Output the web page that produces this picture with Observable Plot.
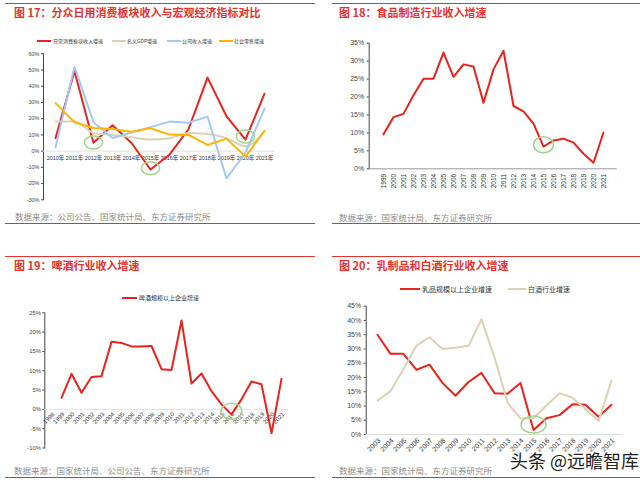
<!DOCTYPE html>
<html><head><meta charset="utf-8">
<script src="https://cdn.jsdelivr.net/npm/d3@7"></script>
<script src="https://cdn.jsdelivr.net/npm/@observablehq/plot@0.6"></script>
<style>
body{margin:0;width:640px;height:484px;position:relative;background:#fff;overflow:hidden;font-family:"Liberation Sans","Noto Sans CJK SC",sans-serif}
.rl{position:absolute;height:1px;background:#e5322d}
.title{position:absolute;font-family:"Noto Sans CJK SC",sans-serif;font-weight:bold;font-size:11px;color:#e5322d;white-space:nowrap;line-height:1}
.src{position:absolute;font-family:"Noto Sans CJK SC",sans-serif;font-size:8.5px;color:#8c8c8c;white-space:nowrap;line-height:1}
.leg{position:absolute;color:#333;white-space:nowrap;line-height:1;font-family:"Noto Sans CJK SC",sans-serif}
.sw{position:absolute;height:2px}
.pl{position:absolute}
.pl svg [aria-label="y-axis"] path, .pl svg [aria-label="y-axis"] line{stroke:#9a9a9a}
.wm{position:absolute;left:510px;top:451px;font-family:"Noto Sans CJK SC",sans-serif;font-size:18px;color:#222;white-space:nowrap;line-height:1;text-shadow:0 0 2px #fff,0 0 2px #fff}
</style></head><body>
<div id="root"></div>
<script>
// ---------- data ----------
const p1Years = ["2010","2011","2012","2013","2014","2015","2016","2017","2018","2019","2020","2021"];
const p1Consumer = [8, 49.3, 5.2, 16, 5, -11.3, -2.2, 13.5, 45.3, 21.5, 7.1, 35.4];
const p1GDP = [18.2, 18.3, 11.2, 10.0, 8.5, 7.1, 8.0, 11.2, 10.5, 8.0, 3.0, 12.5];
const p1Company = [2.4, 52, 17.8, 8.1, 11.5, 14.8, 18.2, 17.5, 21.3, -16.8, -1, 26.2];
const p1Retail = [29.6, 17.8, 14.3, 13.6, 12.0, 14.1, 10.2, 10.0, 3.8, 7.7, -3.4, 12.4];
const p1Names = ["日常消费板块收入增速","名义GDP增速","公司收入增速","社会零售增速"];
const p1MarkYears = ["2012","2015","2020"];
const p1MarkValues = [5.3, -10.6, 9];

const p2Years = ["1999","2000","2001","2002","2003","2004","2005","2006","2007","2008","2009","2010","2011","2012","2013","2014","2015","2016","2017","2018","2019","2020","2021"];
const p2Food = [9.6, 14.4, 15.3, 20.5, 25.1, 25.1, 32.4, 25.6, 29.1, 28.5, 18.4, 27.7, 32.9, 17.5, 16.0, 12.6, 6.2, 7.9, 8.4, 7.3, 4.2, 1.7, 10.1];
const p2MarkYears = ["2015"];
const p2MarkValues = [6.7];

const p3Years = ["1998","1999","2000","2001","2002","2003","2004","2005","2006","2007","2008","2009","2010","2011","2012","2013","2014","2015","2016","2017","2018","2019","2020","2021"];
const p3BeerYears = p3Years.slice(1);
const p3Beer = [3.0, 9.2, 4.3, 8.4, 8.6, 17.5, 17.2, 16.3, 16.3, 16.4, 10.4, 10.2, 23.0, 6.7, 9.3, 4.7, 1.3, -1.3, 2.6, 7.2, 6.5, -6.2, 7.9];
const p3Name = "啤酒规模以上企业增速";
const p3MarkYears = ["2016"];
const p3MarkValues = [-0.5];

const p4Years = ["2003","2004","2005","2006","2007","2008","2009","2010","2011","2012","2013","2014","2015","2016","2017","2018","2019","2020","2021"];
const p4Dairy = [35, 28.3, 28.3, 22.7, 24.5, 18.1, 13.6, 18.4, 21.6, 14.5, 14.3, 18.1, 1.6, 5.7, 6.8, 10.6, 10.4, 6.2, 10.4];
const p4Baijiu = [11.9, 15.2, 22.9, 31.2, 34.1, 30.0, 30.4, 31.1, 40.4, 27.0, 11.2, 5.6, 5.7, 10.2, 14.5, 12.9, 8.9, 4.7, 18.9];
const p4Names = ["乳品规模以上企业增速","白酒行业增速"];
const p4MarkYears = ["2015"];
const p4MarkValues = [3.5];

// ---------- styles ----------
const RED = "#e8231e", BEIGE = "#ddd0b6", BLUE = "#a3c8f5", ORANGE = "#ffb500", GREEN = "#a2d38b";
const FONT = "Liberation Sans, Noto Sans CJK SC, sans-serif";

function ellipseSymbol(ratio) {
  return {draw(ctx, size) {
    const ry = Math.sqrt(size / Math.PI), rx = ry * ratio, k = 0.5523;
    ctx.moveTo(rx, 0);
    ctx.bezierCurveTo(rx, k * ry, k * rx, ry, 0, ry);
    ctx.bezierCurveTo(-k * rx, ry, -rx, k * ry, -rx, 0);
    ctx.bezierCurveTo(-rx, -k * ry, -k * rx, -ry, 0, -ry);
    ctx.bezierCurveTo(k * rx, -ry, rx, -k * ry, rx, 0);
    ctx.closePath();
  }};
}
const rows = (xs, vs) => xs.map((x, i) => ({x, v: vs[i]}));
const pct = d => d + "%";
const root = document.getElementById("root");
function place(svg, left, top) {
  const w = document.createElement("div");
  w.className = "pl"; w.style.left = left + "px"; w.style.top = top + "px";
  w.appendChild(svg); root.appendChild(w);
}
function html(cls, text, left, top, extra) {
  const d = document.createElement("div");
  d.className = cls; d.textContent = text;
  d.style.left = left + "px"; d.style.top = top + "px";
  if (extra) Object.assign(d.style, extra);
  document.body.appendChild(d);
}
function swatch(color, left, top, width) {
  const d = document.createElement("div");
  d.className = "sw"; d.style.left = left + "px"; d.style.top = top + "px";
  d.style.width = width + "px"; d.style.background = color;
  document.body.appendChild(d);
}
function rule(left, top, width) {
  const d = document.createElement("div");
  d.className = "rl"; d.style.left = left + "px"; d.style.top = top + "px"; d.style.width = width + "px";
  document.body.appendChild(d);
}

// ---------- panel 1 ----------
place(Plot.plot({
  width: 300, height: 170,
  marginLeft: 43, marginRight: 25, marginTop: 13.3, marginBottom: 10.7,
  style: {fontSize: "5.5px", fontFamily: FONT, color: "#444", background: "transparent", overflow: "visible"},
  x: {type: "point", domain: p1Years, padding: 0.5, axis: null},
  y: {domain: [-30, 60], ticks: d3.range(-30, 61, 10), tickFormat: pct, tickSize: 2, tickPadding: 2, line: true, label: null},
  marks: [
    Plot.ruleY([0], {stroke: "#e6e6e6", strokeWidth: 1.2}),
    Plot.text(p1Years, {x: d => d, y: 0, text: d => d + "年", dy: 7, fill: "#333"}),
    Plot.line(rows(p1Years, p1Consumer), {x: "x", y: "v", stroke: RED, strokeWidth: 2}),
    Plot.line(rows(p1Years, p1GDP), {x: "x", y: "v", stroke: BEIGE, strokeWidth: 2, curve: "monotone-x"}),
    Plot.line(rows(p1Years, p1Company), {x: "x", y: "v", stroke: BLUE, strokeWidth: 2}),
    Plot.line(rows(p1Years, p1Retail), {x: "x", y: "v", stroke: ORANGE, strokeWidth: 2}),
    Plot.dot(rows(p1MarkYears, p1MarkValues), {x: "x", y: "v", r: 6.5, symbol: ellipseSymbol(1.4), stroke: GREEN, strokeWidth: 1.5, fill: "none"})
  ]
}), 0, 40);

// ---------- panel 2 ----------
place(Plot.plot({
  width: 310, height: 180,
  marginLeft: 48.7, marginRight: 13.3, marginTop: 12.7, marginBottom: 41.7,
  style: {fontSize: "7px", fontFamily: FONT, color: "#444", background: "transparent", overflow: "visible"},
  x: {type: "point", domain: p2Years, padding: 0.5, axis: null},
  y: {domain: [0, 35], ticks: d3.range(0, 36, 5), tickFormat: pct, tickSize: 2, tickPadding: 3, line: true, label: null},
  marks: [
    Plot.ruleY([0], {stroke: "#999", strokeWidth: 1}),
    Plot.text(p2Years, {x: d => d, y: 0, text: d => d, rotate: -90, textAnchor: "end", dy: 5, fontSize: 6.5, fill: "#333"}),
    Plot.line(rows(p2Years, p2Food), {x: "x", y: "v", stroke: RED, strokeWidth: 2}),
    Plot.dot(rows(p2MarkYears, p2MarkValues), {x: "x", y: "v", r: 8, symbol: ellipseSymbol(1.25), stroke: GREEN, strokeWidth: 1.5, fill: "none"})
  ]
}), 320, 30);

// ---------- panel 3 ----------
place(Plot.plot({
  width: 300, height: 155,
  marginLeft: 44.3, marginRight: 12, marginTop: 7.3, marginBottom: 12.5,
  style: {fontSize: "5.8px", fontFamily: FONT, color: "#444", background: "transparent", overflow: "visible"},
  x: {type: "point", domain: p3Years, padding: 0.5, axis: null},
  y: {domain: [-10, 25], ticks: d3.range(-10, 26, 5), tickFormat: pct, tickSize: 2, tickPadding: 2, line: true, label: null},
  marks: [
    Plot.ruleY([0], {stroke: "#e6e6e6", strokeWidth: 1.2}),
    Plot.text(p3Years, {x: d => d, y: 0, text: d => d, rotate: -45, textAnchor: "end", dy: 4, dx: 2, fontSize: 6, fill: "#333"}),
    Plot.line(rows(p3BeerYears, p3Beer), {x: "x", y: "v", stroke: RED, strokeWidth: 2}),
    Plot.dot(rows(p3MarkYears, p3MarkValues), {x: "x", y: "v", r: 8, symbol: ellipseSymbol(1.3), stroke: GREEN, strokeWidth: 1.5, fill: "none"})
  ]
}), 0, 305);

// ---------- panel 4 ----------
place(Plot.plot({
  width: 310, height: 165,
  marginLeft: 45.7, marginRight: 8.3, marginTop: 10.7, marginBottom: 26,
  style: {fontSize: "7px", fontFamily: FONT, color: "#444", background: "transparent", overflow: "visible"},
  x: {type: "point", domain: p4Years, padding: 0.5, axis: null},
  y: {domain: [0, 45], ticks: d3.range(0, 46, 5), tickFormat: pct, tickSize: 2, tickPadding: 3, line: true, label: null},
  marks: [
    Plot.ruleY([0], {stroke: "#dcdcdc", strokeWidth: 1}),
    Plot.text(p4Years, {x: d => d, y: 0, text: d => d, rotate: -45, textAnchor: "end", dy: 5, dx: 2, fontSize: 7, fill: "#333"}),
    Plot.line(rows(p4Years, p4Dairy), {x: "x", y: "v", stroke: RED, strokeWidth: 2}),
    Plot.line(rows(p4Years, p4Baijiu), {x: "x", y: "v", stroke: BEIGE, strokeWidth: 2}),
    Plot.dot(rows(p4MarkYears, p4MarkValues), {x: "x", y: "v", r: 8.5, symbol: ellipseSymbol(1.47), stroke: GREEN, strokeWidth: 1.5, fill: "none"})
  ]
}), 320, 295);

// ---------- frames, titles, legends, sources ----------
rule(5, 3, 310); rule(332, 3, 308); rule(5, 223, 310); rule(332, 223, 308);
rule(5, 256, 310); rule(332, 256, 308); rule(5, 477, 310); rule(332, 477, 308);

html("title", "图 17：分众日用消费板块收入与宏观经济指标对比", 14, 6.5);
html("title", "图 18：食品制造行业收入增速", 339, 6.5);
html("title", "图 19：啤酒行业收入增速", 14, 260);
html("title", "图 20：乳制品和白酒行业收入增速", 339, 260);

html("src", "数据来源：公司公告、国家统计局、东方证券研究所", 15, 212);
html("src", "数据来源：国家统计局、东方证券研究所", 339, 212.5);
html("src", "数据来源：国家统计局、公司公告、东方证券研究所", 14, 466);
html("src", "数据来源：国家统计局、东方证券研究所", 339, 466);

// panel 1 legend
const l1 = [[RED, 37, 53], [BEIGE, 112, 127], [BLUE, 167, 182], [ORANGE, 219, 234]];
l1.forEach(([c, s, t], i) => { swatch(c, s, 39.5, 14); html("leg", p1Names[i], t, 38, {fontSize: "5px"}); });
// panel 3 legend
swatch(RED, 122, 297, 15); html("leg", p3Name, 139, 295, {fontSize: "6px"});
// panel 4 legend
swatch(RED, 400, 288, 20); html("leg", p4Names[0], 422, 285.5, {fontSize: "7px"});
swatch(BEIGE, 508, 288, 18); html("leg", p4Names[1], 528, 285.5, {fontSize: "7px"});

html("wm", "头条 @远瞻智库", 510, 451);
</script>
</body></html>
